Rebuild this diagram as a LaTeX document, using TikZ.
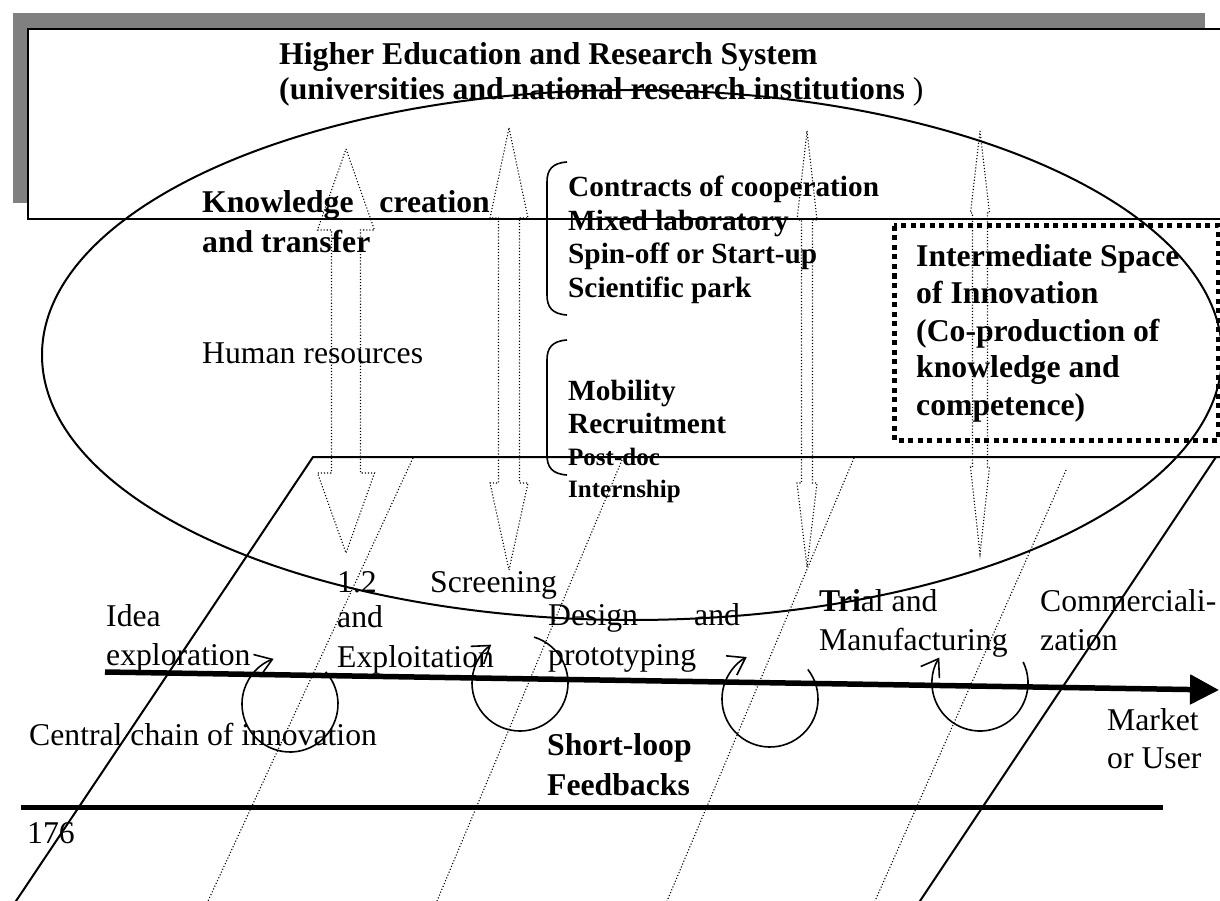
\documentclass[tikz,border=0pt]{standalone}
\usepackage{fontspec}
\setmainfont{Liberation Serif}
\usetikzlibrary{arrows.meta}
\newcommand{\hollowdbl}[7]{\draw[dotline] (#1,#4) -- ({#1+#3},#5) -- ({#1+#2},#5) -- ({#1+#2},#6) -- ({#1+#3},#6) -- (#1,#7) -- ({#1-#3},#6) -- ({#1-#2},#6) -- ({#1-#2},#5) -- ({#1-#3},#5) -- cycle;}
\begin{document}
\begin{tikzpicture}[x=1pt,y=-1pt,
  txt/.style={inner sep=0pt, anchor=base west, font=\fontsize{31.7}{36}\selectfont},
  btxt/.style={inner sep=0pt, anchor=base west, font=\fontsize{31.7}{36}\selectfont\bfseries},
  ltxt/.style={inner sep=0pt, anchor=base west, font=\fontsize{29.3}{34}\selectfont\bfseries},
  stxt/.style={inner sep=0pt, anchor=base west, font=\fontsize{25}{30}\selectfont\bfseries},
  dotline/.style={line width=1.1pt, dash pattern=on 1.1pt off 2pt},
  solidline/.style={line width=2pt},
  loopline/.style={line width=1.6pt, -{Straight Barb[length=16pt,width=22pt]}},
  bracket/.style={line width=1.6pt},
]
\useasboundingbox (0,0) rectangle (1220,901);
\fill[white] (0,0) rectangle (1220,901);
% top box with shadow
\fill[gray] (13,13) rectangle (1205,203);
\draw[fill=white, line width=2pt] (28,29) rectangle (1240,219);
% big ellipse
\draw[solidline] (632,355) ellipse [x radius=590, y radius=265];
% parallelogram
\draw[solidline] (10,910) -- (313,457) -- (1240,457);
\draw[solidline] (1216,457) -- (914,910);
% dotted slanted lines
\draw[dotline] (413,458) -- (208,901);
\draw[dotline] (622,460) -- (437,901);
\draw[dotline] (854,458) -- (667,901);
\draw[dotline] (1066,470) -- (875,901);
% hollow double arrows
\hollowdbl{346}{14.5}{28.5}{149}{230}{473}{553}
\hollowdbl{509}{10.5}{19}{128}{218}{483}{570}
\hollowdbl{807}{5.5}{10}{131}{220}{483}{567}
\hollowdbl{980}{7.5}{9.5}{131}{213}{467}{554}
% brackets
\draw[bracket] (567,162) .. controls (552,163) and (547,170) .. (547,182) -- (547,295) .. controls (547,307) and (552,314) .. (567,315);
\draw[bracket] (567,340) .. controls (552,341) and (547,348) .. (547,360) -- (547,455) .. controls (547,467) and (552,474) .. (567,475);
% dotted box
\draw[line width=5pt, dash pattern=on 5pt off 4.5pt] (894,226) rectangle (1218,440);
% main arrow and bottom line
\coordinate (chainstart) at (105,672);
\coordinate (chainend) at (1219,690);
\draw[line width=5.5pt, -{Triangle[length=29pt,width=29pt]}] (chainstart) -- (chainend);
\coordinate (rulestart) at (21,807);
\coordinate (ruleend) at (1163,807);
\draw[line width=5pt] (rulestart) -- (ruleend);
% loops
\draw[loopline] (290,704) ++(-42:48) arc[start angle=-42, end angle=250, radius=48];
\draw[loopline] (520,683) ++(-73:48) arc[start angle=-73, end angle=233, radius=48];
\draw[loopline] (770,699) ++(-38:48) arc[start angle=-38, end angle=241, radius=48];
\draw[loopline] (980,683) ++(-26:48) arc[start angle=-26, end angle=212, radius=48];
% texts
\node[btxt] (t1) at (279,65) {Higher Education and Research System};
\node[btxt] (t2) at (279,100) {(universities and national research institutions {\mdseries )}};
\node[btxt] (k1) at (202,213) {Knowledge};
\node[btxt, anchor=base east] (k2) at (490,213) {creation};
\node[btxt] (k3) at (202,253) {and transfer};
\node[txt] (hr) at (202,363) {Human resources};
\node[ltxt] (c1) at (568,197) {Contracts of cooperation};
\node[ltxt] (c2) at (568,231) {Mixed laboratory};
\node[ltxt] (c3) at (568,264) {Spin-off or Start-up};
\node[ltxt] (c4) at (568,297) {Scientific park};
\node[ltxt] (m1) at (568,400) {Mobility};
\node[ltxt] (m2) at (568,433) {Recruitment};
\node[stxt] (m3) at (568,465) {Post-doc};
\node[stxt] (m4) at (568,497) {Internship};
\node[btxt] (i1) at (916,267) {Intermediate Space};
\node[btxt] (i2) at (916,303) {of Innovation};
\node[btxt] (i3) at (916,341) {(Co-production of};
\node[btxt] (i4) at (916,377) {knowledge and};
\node[btxt] (i5) at (916,415) {competence)};
\node[txt] (e1) at (337,592) {1.2};
\node[txt] (e2) at (337,627) {and};
\node[txt] (e3) at (337,667) {Exploitation};
\node[txt] (s1) at (430,592) {Screening};
\node[txt] (id1) at (106,626) {Idea};
\node[txt] (id2) at (106,665) {exploration};
\node[txt] (d1) at (548,625) {Design};
\node[txt] (d2) at (694,625) {and};
\node[txt] (d3) at (548,665) {prototyping};
\node[txt] (tr1) at (819,611) {\textbf{Tri}al and};
\node[txt] (tr2) at (819,650) {Manufacturing};
\node[txt] (co1) at (1040,611) {Commerciali-};
\node[txt] (co2) at (1040,650) {zation};
\node[txt] (cc) at (29,745) {Central chain of innovation};
\node[btxt] (sl1) at (547,755) {Short-loop};
\node[btxt] (sl2) at (547,795) {Feedbacks};
\node[txt] (mk1) at (1107,730) {Market};
\node[txt] (mk2) at (1107,768) {or User};
\node[txt] (pg) at (27,843) {176};
\end{tikzpicture}
\end{document}
